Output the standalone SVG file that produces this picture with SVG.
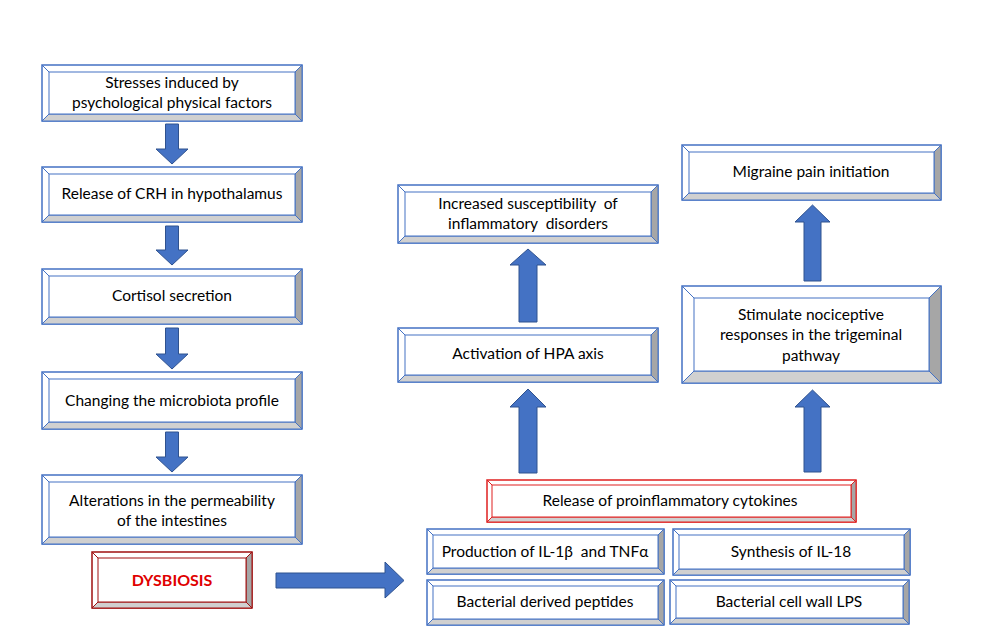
<svg xmlns="http://www.w3.org/2000/svg" width="986" height="641" viewBox="0 0 986 641">
<style>
.o{fill:#fff;stroke:#4472C4;stroke-width:1.5}
.r{fill:#a6a6a6;stroke:#4472C4;stroke-width:1}
.b{fill:#d0d0d0;stroke:#4472C4;stroke-width:1}
.d{fill:none;stroke:#4472C4;stroke-width:1}
.i{fill:#fff;stroke:#4472C4;stroke-width:1}
.red .o,.red .r,.red .b,.red .d,.red .i{stroke:#E02020}
.dred .o,.dred .r,.dred .b,.dred .d,.dred .i{stroke:#A01010}
text{font-family:Lato,"Liberation Sans",sans-serif;font-size:15.5px;fill:#000;text-anchor:middle;white-space:pre}
.dys{font-weight:bold;fill:#E00000;font-size:16px}
.ar{fill:#4472C4;stroke:#2F528F;stroke-width:1}
</style>
<rect width="986" height="641" fill="#fff"/>
<g id="connectors">
<path class="ar" d="M165.5 124H178.5V149H188L172 164L156 149H165.5Z"/>
<path class="ar" d="M165.5 226H178.5V250H188L172 265L156 250H165.5Z"/>
<path class="ar" d="M165.5 328H178.5V354H188L172 369L156 354H165.5Z"/>
<path class="ar" d="M165.5 432H178.5V457H188L172 472L156 457H165.5Z"/>
<path class="ar" d="M276 573H385V562L404 580.5L385 598V588H276Z"/>
<path class="ar" d="M528 249L546 265H537V322H519V265H510Z"/>
<path class="ar" d="M528 389L546 407H537V473H519V407H510Z"/>
<path class="ar" d="M812.5 205L830 222H821V281H804V222H795Z"/>
<path class="ar" d="M812.5 390L830 407H821V472H804V407H795Z"/>
</g>
<g id="n1">
<rect class="o" x="42" y="65" width="260" height="56"/>
<polygon class="r" points="302,65 302,121 295,114 295,72"/>
<polygon class="b" points="42,121 302,121 295,114 49,114"/>
<path class="d" d="M42 65L49 72M302 65L295 72M42 121L49 114M302 121L295 114"/>
<rect class="i" x="49" y="72" width="246" height="42"/>
<text x="172" y="88">Stresses induced by</text>
<text x="172" y="108">psychological physical factors</text>
</g>
<g id="n2">
<rect class="o" x="42" y="167" width="260" height="55"/>
<polygon class="r" points="302,167 302,222 295,215 295,174"/>
<polygon class="b" points="42,222 302,222 295,215 49,215"/>
<path class="d" d="M42 167L49 174M302 167L295 174M42 222L49 215M302 222L295 215"/>
<rect class="i" x="49" y="174" width="246" height="41"/>
<text x="172" y="199">Release of CRH in hypothalamus</text>
</g>
<g id="n3">
<rect class="o" x="42" y="269" width="260" height="55"/>
<polygon class="r" points="302,269 302,324 295,317 295,276"/>
<polygon class="b" points="42,324 302,324 295,317 49,317"/>
<path class="d" d="M42 269L49 276M302 269L295 276M42 324L49 317M302 324L295 317"/>
<rect class="i" x="49" y="276" width="246" height="41"/>
<text x="172" y="301">Cortisol secretion</text>
</g>
<g id="n4">
<rect class="o" x="42" y="372" width="260" height="57"/>
<polygon class="r" points="302,372 302,429 295,422 295,379"/>
<polygon class="b" points="42,429 302,429 295,422 49,422"/>
<path class="d" d="M42 372L49 379M302 372L295 379M42 429L49 422M302 429L295 422"/>
<rect class="i" x="49" y="379" width="246" height="43"/>
<text x="172" y="406">Changing the microbiota profile</text>
</g>
<g id="n5">
<rect class="o" x="42" y="475" width="260" height="69"/>
<polygon class="r" points="302,475 302,544 295,537 295,482"/>
<polygon class="b" points="42,544 302,544 295,537 49,537"/>
<path class="d" d="M42 475L49 482M302 475L295 482M42 544L49 537M302 544L295 537"/>
<rect class="i" x="49" y="482" width="246" height="55"/>
<text x="172" y="506">Alterations in the permeability</text>
<text x="172" y="526">of the intestines</text>
</g>
<g id="dysbiosis" class="dred">
<rect class="o" x="92" y="552" width="160" height="56"/>
<polygon class="r" points="252,552 252,608 246,602 246,558"/>
<polygon class="b" points="92,608 252,608 246,602 98,602"/>
<path class="d" d="M92 552L98 558M252 552L246 558M92 608L98 602M252 608L246 602"/>
<rect class="i" x="98" y="558" width="148" height="44"/>
<text class="dys" x="172" y="586">DYSBIOSIS</text>
</g>
<g id="increased">
<rect class="o" x="398" y="185" width="260" height="58"/>
<polygon class="r" points="658,185 658,243 651,236 651,192"/>
<polygon class="b" points="398,243 658,243 651,236 405,236"/>
<path class="d" d="M398 185L405 192M658 185L651 192M398 243L405 236M658 243L651 236"/>
<rect class="i" x="405" y="192" width="246" height="44"/>
<text x="528" y="209">Increased susceptibility  of</text>
<text x="528" y="229">inflammatory  disorders</text>
</g>
<g id="hpa">
<rect class="o" x="398" y="328" width="260" height="54"/>
<polygon class="r" points="658,328 658,382 651,375 651,335"/>
<polygon class="b" points="398,382 658,382 651,375 405,375"/>
<path class="d" d="M398 328L405 335M658 328L651 335M398 382L405 375M658 382L651 375"/>
<rect class="i" x="405" y="335" width="246" height="40"/>
<text x="528" y="359">Activation of HPA axis</text>
</g>
<g id="migraine">
<rect class="o" x="682" y="145" width="259" height="55"/>
<polygon class="r" points="941,145 941,200 934,193 934,152"/>
<polygon class="b" points="682,200 941,200 934,193 689,193"/>
<path class="d" d="M682 145L689 152M941 145L934 152M682 200L689 193M941 200L934 193"/>
<rect class="i" x="689" y="152" width="245" height="41"/>
<text x="811" y="177">Migraine pain initiation</text>
</g>
<g id="stimulate">
<rect class="o" x="682" y="286" width="259" height="97"/>
<polygon class="r" points="941,286 941,383 929,371 929,298"/>
<polygon class="b" points="682,383 941,383 929,371 694,371"/>
<path class="d" d="M682 286L694 298M941 286L929 298M682 383L694 371M941 383L929 371"/>
<rect class="i" x="694" y="298" width="235" height="73"/>
<text x="811" y="320">Stimulate nociceptive</text>
<text x="811" y="340">responses in the trigeminal</text>
<text x="811" y="361">pathway</text>
</g>
<g id="release" class="red">
<rect class="o" x="487" y="480" width="369" height="42"/>
<polygon class="r" points="856,480 856,522 851,517 851,485"/>
<polygon class="b" points="487,522 856,522 851,517 492,517"/>
<path class="d" d="M487 480L492 485M856 480L851 485M487 522L492 517M856 522L851 517"/>
<rect class="i" x="492" y="485" width="359" height="32"/>
<text x="670" y="506">Release of proinflammatory cytokines</text>
</g>
<g id="production">
<rect class="o" x="427" y="529" width="237" height="45"/>
<polygon class="r" points="664,529 664,574 658,568 658,535"/>
<polygon class="b" points="427,574 664,574 658,568 433,568"/>
<path class="d" d="M427 529L433 535M664 529L658 535M427 574L433 568M664 574L658 568"/>
<rect class="i" x="433" y="535" width="225" height="33"/>
<text x="545" y="557">Production of IL-1β  and TNFα</text>
</g>
<g id="synthesis">
<rect class="o" x="673" y="529" width="237" height="46"/>
<polygon class="r" points="910,529 910,575 904,569 904,535"/>
<polygon class="b" points="673,575 910,575 904,569 679,569"/>
<path class="d" d="M673 529L679 535M910 529L904 535M673 575L679 569M910 575L904 569"/>
<rect class="i" x="679" y="535" width="225" height="34"/>
<text x="791" y="557">Synthesis of IL-18</text>
</g>
<g id="peptides">
<rect class="o" x="427" y="580" width="237" height="45"/>
<polygon class="r" points="664,580 664,625 658,619 658,586"/>
<polygon class="b" points="427,625 664,625 658,619 433,619"/>
<path class="d" d="M427 580L433 586M664 580L658 586M427 625L433 619M664 625L658 619"/>
<rect class="i" x="433" y="586" width="225" height="33"/>
<text x="545" y="607">Bacterial derived peptides</text>
</g>
<g id="lps">
<rect class="o" x="670" y="580" width="239" height="44"/>
<polygon class="r" points="909,580 909,624 903,618 903,586"/>
<polygon class="b" points="670,624 909,624 903,618 676,618"/>
<path class="d" d="M670 580L676 586M909 580L903 586M670 624L676 618M909 624L903 618"/>
<rect class="i" x="676" y="586" width="227" height="32"/>
<text x="789" y="607">Bacterial cell wall LPS</text>
</g>
</svg>
